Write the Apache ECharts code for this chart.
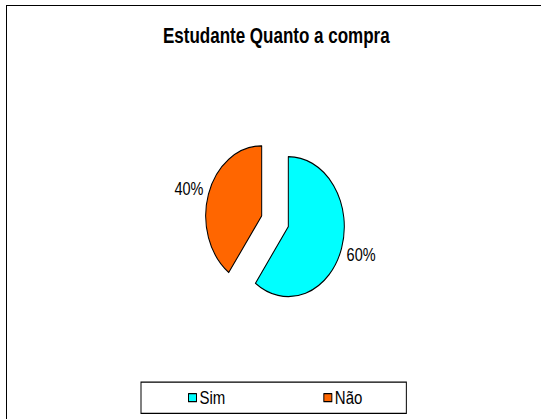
<!DOCTYPE html>
<html>
<head>
<meta charset="utf-8">
<script src="https://cdn.jsdelivr.net/npm/echarts@6/dist/echarts.min.js"></script>
<style>
  html, body { margin: 0; padding: 0; background: #fff; }
  #wrap { position: relative; width: 541px; height: 419px; overflow: hidden; background: #fff; }
  /* the reference chart is drawn with a 1.25 vertical aspect (elliptical pie) */
  #chart { position: absolute; left: 0; top: 0; width: 541px; height: 335.2px;
           transform: scaleY(1.25); transform-origin: 0 0; }
  #frame { position: absolute; left: 6px; top: 5px; width: 545px; height: 430px;
           border-top: 1.5px solid #000; border-left: 1.5px solid #000; pointer-events: none; }
</style>
</head>
<body>
<div id="wrap">
  <div id="chart"></div>
  <div id="frame"></div>
</div>
<script>
const titleText = 'Estudante Quanto a compra';
const categories = ['Sim', 'Não'];
const values = [60, 40];
const colors = ['#00FFFF', '#FF6600'];

const chart = echarts.init(document.getElementById('chart'), null, { renderer: 'svg', width: 541, height: 335.2 });

const pieData = categories.map((c, i) => ({
  name: c,
  value: values[i],
  selected: true,
  itemStyle: { color: colors[i] }
}));

chart.setOption({
  animation: false,
  backgroundColor: '#fff',
  textStyle: { fontFamily: 'Liberation Sans' },
  title: {
    text: titleText,
    left: 163,
    top: 20,
    padding: 0,
    textStyle: { fontFamily: 'Liberation Sans', fontWeight: 'bold', fontSize: 17, color: '#000' }
  },
  legend: {
    data: categories,
    orient: 'horizontal',
    left: 141,
    top: 305.6,
    padding: [5, 44, 5, 47],
    itemGap: 98,
    itemWidth: 8,
    itemHeight: 6.4,
    icon: 'rect',
    borderColor: '#000',
    borderWidth: 1,
    selectedMode: false,
    itemStyle: { borderColor: '#000', borderWidth: 1 },
    textStyle: { fontFamily: 'Liberation Sans', fontSize: 15, color: '#000', padding: [0, 0, 0, -2] }
  },
  series: [{
    type: 'pie',
    center: [275, 177],
    radius: 56,
    startAngle: 90,
    clockwise: true,
    selectedMode: 'multiple',
    selectedOffset: 14,
    data: pieData,
    itemStyle: { borderColor: '#000', borderWidth: 1 },
    select: { itemStyle: { borderColor: '#000', borderWidth: 1 } },
    emphasis: { disabled: true },
    label: {
      show: true,
      position: 'outside',
      formatter: '{d}%',
      fontFamily: 'Liberation Sans',
      fontSize: 14.5,
      color: '#000'
    },
    labelLine: { show: false, length: 0, length2: 0 },
    labelLayout: function (params) {
      return { dy: params.dataIndex === 0 ? 5 : -4.5 };
    }
  }]
});
</script>
</body>
</html>
